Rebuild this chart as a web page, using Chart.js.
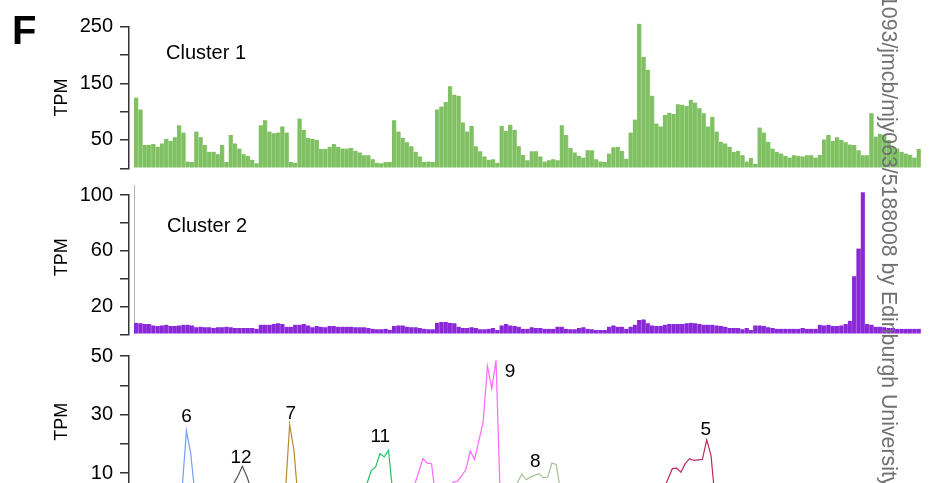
<!DOCTYPE html>
<html>
<head>
<meta charset="utf-8">
<script src="https://cdn.jsdelivr.net/npm/chart.js@4.4.1/dist/chart.umd.min.js"></script>
<style>
  html, body { margin: 0; padding: 0; width: 930px; height: 483px; overflow: hidden; background: #fff; }
  canvas { position: absolute; left: 0; }
  #cA { top: 0; }
  #cB { top: 170px; }
  #cC { top: 330.7px; }
  #figLetter { position: absolute; left: 12px; top: 10px; font: bold 40px/40px "Liberation Sans", Arial, sans-serif; color: #000; }
  #watermark { position: absolute; left: 899px; top: -5px; transform-origin: 0 0; transform: rotate(90deg);
    font: 21.3px/21.3px "Liberation Sans", Arial, sans-serif; color: #707070; white-space: nowrap; }
</style>
</head>
<body>
<canvas id="cA" width="930" height="190"></canvas>
<canvas id="cB" width="930" height="186"></canvas>
<canvas id="cC" width="930" height="200"></canvas>
<div id="figLetter">F</div>
<div id="watermark">1093/jmcb/mjy063/5188008 by Edinburgh University</div>
<script>
// ---------------- DATA ----------------
const cluster1TPM = [
  125, 104, 41, 41, 43, 38, 44, 52, 48, 55, 76, 63, 12, 11, 65, 55, 41, 29, 29, 25,
  41, 11, 59, 44, 35, 25, 22, 15, 9, 76, 85, 65, 62, 63, 74, 63, 11, 10, 88,
  68, 54, 52, 50, 34, 34, 38, 43, 38, 35, 35, 36, 31, 28, 23, 23, 16, 10, 9, 11,
  11, 85, 65, 54, 46, 39, 29, 21, 11, 12, 11, 104, 109, 117, 145, 130, 128, 81, 65, 75,
  39, 30, 21, 15, 16, 10, 75, 66, 77, 68, 39, 24, 14, 30, 30, 21, 12, 14, 16, 14,
  76, 59, 36, 28, 22, 19, 32, 32, 16, 12, 11, 26, 37, 38, 31, 17,
  63, 86, 255, 197, 174, 128, 79, 74, 94, 98, 96, 113, 112, 110, 121, 116, 106, 97, 74, 91,
  65, 47, 44, 38, 29, 31, 23, 12, 18, 8, 72, 63, 47, 35, 29, 26, 22, 19, 23, 22,
  21, 23, 23, 19, 24, 51, 59, 48, 55, 50, 46, 42, 41, 32, 23, 23, 97, 56, 61, 59,
  50, 38, 35, 29, 26, 24, 19, 34
];
const cluster2TPM = [
  8.3, 7.9, 7.4, 7.4, 6.4, 5.9, 6.4, 6.9, 5.9, 5.9, 6.4, 6.9, 6.9, 6.4, 5.0, 5.5, 5.0, 5.0, 4.5, 5.0,
  5.0, 5.5, 5.0, 4.5, 4.5, 4.5, 4.5, 4.5, 4.0, 6.9, 6.9, 6.9, 7.4, 7.9, 7.4, 5.5, 5.5, 6.9, 6.9,
  7.4, 6.4, 5.0, 5.9, 5.5, 5.0, 5.9, 5.9, 5.5, 5.5, 5.5, 5.5, 5.0, 5.0, 5.0, 4.5, 4.0, 3.6, 3.6, 4.0,
  3.1, 5.9, 6.4, 6.4, 5.5, 5.0, 5.0, 4.5, 4.0, 3.6, 3.6, 8.3, 8.8, 8.8, 8.3, 7.9, 5.5, 4.5, 4.5, 5.0,
  4.5, 3.6, 3.6, 4.0, 4.5, 3.1, 6.4, 7.4, 6.4, 5.9, 5.5, 4.0, 4.0, 5.0, 4.5, 4.5, 4.0, 4.0, 4.0, 5.5,
  5.5, 4.0, 3.6, 3.6, 4.5, 5.0, 4.0, 3.6, 3.1, 3.1,
  3.1, 5.5, 6.4, 5.5, 5.5, 4.0, 5.5, 6.9, 10.2, 10.7, 7.9, 6.4, 5.9, 5.9, 6.9, 7.4, 7.4, 7.4, 7.4, 7.9,
  8.3, 7.9, 7.4, 6.9, 6.9, 6.9, 6.4, 5.9, 5.5, 4.5, 4.5, 4.5, 3.6, 4.5, 3.1, 6.4, 6.4, 5.9, 5.0, 4.5,
  4.0, 4.0, 4.0, 4.0, 4.0, 4.0, 4.5, 4.0, 4.0, 4.0, 6.9, 6.4, 6.9, 5.9, 5.9, 6.4, 7.4, 9.7, 41.6, 61.6,
  102, 7.4, 6.9, 5.5, 5.5, 5.0, 4.5, 4.5, 4.0, 4.0, 4.0, 4.0, 4.0, 4.0
];

// Bottom panel: clusters shown as lines (first bin + TPM per consecutive bin)
const lineNames  = ['6', '12', '7', '11', '9', '8', '5'];
const lineStart  = [11, 23, 35, 54, 65, 88, 123];
const line6TPM   = [1, 4.8, 24.4, 16.6, 2.2, 0.5];
const line12TPM  = [1, 6.4, 9.1, 12.3, 9.0, 4.9, 1];
const line7TPM   = [0.5, 3, 26.6, 17.8, 0];
const line11TPM  = [1, 6.5, 10.9, 12.1, 16.6, 15.5, 17.8, 2.7, 0.5];
const line9TPM   = [1, 5.8, 10.3, 14.9, 13.4, 13.2, 0.8, 1, 1, 2, 6.9, 7.2, 9, 11.2, 17.5, 14.6, 21, 27.4, 46.5, 38.9, 48.5, 0];
const line8TPM   = [0.5, 2, 6.8, 9.6, 7.7, 8.6, 9.2, 9.8, 8.4, 8.6, 13.4, 12.9, 3.8, 0.5];
const line5TPM   = [0.5, 4.7, 8.0, 11.5, 11.7, 10.3, 13.2, 14.9, 14.3, 14.5, 14.7, 21.4, 16, 0];
const lineValues = [line6TPM, line12TPM, line7TPM, line11TPM, line9TPM, line8TPM, line5TPM];

const ticks1 = [250, 150, 50];
const ticks2 = [100, 60, 20];
const ticks3 = [50, 30, 10];

// ---------------- STYLE / LAYOUT ----------------
const FONT = '"Liberation Sans", Arial, Helvetica, sans-serif';
const lineColors = ['#6e9ef5', '#555555', '#b58a30', '#25c064', '#ff66ff', '#a6c198', '#c0265e'];
const labelOffsets = [[0, -14], [-1.4, -9], [1.2, -10.7], [-8.3, -13.3], [14, 11.2], [-16.6, -1], [-1, -10.2]];
const AXIS_W = 129;
const X_MIN = -0.663, X_MAX = 183.53;

const panelText = {
  id: 'panelText',
  beforeDatasetsDraw(chart, args, opts) {
    if (!opts.guide) return;
    const {ctx, chartArea, scales} = chart;
    const x = Math.round(scales.x.getPixelForValue(0.5)) + 0.5;
    ctx.save();
    ctx.strokeStyle = '#b5b5b5';
    ctx.lineWidth = 1;
    ctx.beginPath();
    ctx.moveTo(x, chartArea.top - 10);
    ctx.lineTo(x, chartArea.bottom);
    ctx.stroke();
    ctx.restore();
  },
  afterDatasetsDraw(chart, args, opts) {
    const {ctx, chartArea, scales} = chart;
    ctx.save();
    ctx.fillStyle = '#000';
    ctx.textBaseline = 'middle';
    if (opts.title) {
      ctx.font = '20px ' + FONT;
      ctx.textAlign = 'left';
      ctx.fillText(opts.title.text, chartArea.left + opts.title.dx, chartArea.top + opts.title.dy);
    }
    if (opts.peaks) {
      ctx.font = '19px ' + FONT;
      ctx.textAlign = 'center';
      lineValues.forEach((vals, i) => {
        let k = 0;
        vals.forEach((v, j) => { if (v > vals[k]) k = j; });
        const px = scales.x.getPixelForValue(lineStart[i] + k);
        const py = scales.y.getPixelForValue(vals[k]);
        ctx.fillText(lineNames[i], px + labelOffsets[i][0], py + labelOffsets[i][1]);
      });
    }
    ctx.restore();
  }
};

function xScale(shift) {
  return { type: 'linear', display: false, min: X_MIN + shift, max: X_MAX + shift, offset: false, grid: { display: false, offset: false } };
}
function yScale(max, step, labelled, titleText) {
  return {
    type: 'linear', position: 'left', min: 0, max: max,
    afterFit: s => { s.width = AXIS_W; },
    border: { display: true, color: '#333', width: 1.5 },
    grid: { drawOnChartArea: false, drawTicks: true, tickLength: 9, color: '#333', lineWidth: 1.5 },
    ticks: { stepSize: step, autoSkip: false, padding: 7, color: '#000', font: { family: FONT, size: 20 },
             callback: v => labelled.includes(v) ? String(v) : '' },
    title: { display: true, text: titleText, color: '#000', font: { family: FONT, size: 18 }, padding: { top: 51.5, bottom: 0 } }
  };
}
function barData(values) { return values.map((v, i) => ({ x: i + 1, y: v })); }

Chart.defaults.font.family = FONT;
const common = { responsive: false, maintainAspectRatio: false, animation: false, devicePixelRatio: 1, events: [] };

new Chart(document.getElementById('cA'), {
  type: 'bar',
  data: { datasets: [{ data: barData(cluster1TPM), backgroundColor: '#7fc062', borderColor: '#a9d692',
    borderWidth: { left: 0, right: 0.8, top: 0, bottom: 0 }, barPercentage: 1, categoryPercentage: 1, clip: false }] },
  options: Object.assign({}, common, {
    layout: { padding: { top: 26.7, bottom: 21.7, left: 0, right: 9 } },
    scales: { x: xScale(0), y: yScale(250, 50, ticks1, 'TPM') },
    plugins: { legend: { display: false }, tooltip: { enabled: false }, panelText: { title: { text: 'Cluster 1', dx: 37, dy: 27 } } }
  }),
  plugins: [panelText]
});

new Chart(document.getElementById('cB'), {
  type: 'bar',
  data: { datasets: [{ data: barData(cluster2TPM), backgroundColor: '#8a27d8', borderColor: '#a866e2',
    borderWidth: { left: 0, right: 0.8, top: 0, bottom: 0 }, barPercentage: 1, categoryPercentage: 1, clip: false }] },
  options: Object.assign({}, common, {
    layout: { padding: { top: 25, bottom: 21.7, left: 0, right: 9 } },
    scales: { x: xScale(0), y: yScale(100, 20, ticks2, '   TPM') },
    plugins: { legend: { display: false }, tooltip: { enabled: false }, panelText: { guide: true, title: { text: 'Cluster 2', dx: 38, dy: 31 } } }
  }),
  plugins: [panelText]
});

new Chart(document.getElementById('cC'), {
  type: 'line',
  data: { datasets: lineValues.map((vals, i) => ({
    data: vals.map((v, k) => ({ x: lineStart[i] + k, y: v })),
    borderColor: lineColors[i], borderWidth: 1.2, pointRadius: 0, fill: false, tension: 0
  })) },
  options: Object.assign({}, common, {
    layout: { padding: { top: 25, bottom: 28.7, left: 0, right: 9 } },
    scales: { x: xScale(0.302), y: yScale(50, 10, ticks3, '   TPM') },
    plugins: { legend: { display: false }, tooltip: { enabled: false }, panelText: { peaks: true } }
  }),
  plugins: [panelText]
});
</script>
</body>
</html>
